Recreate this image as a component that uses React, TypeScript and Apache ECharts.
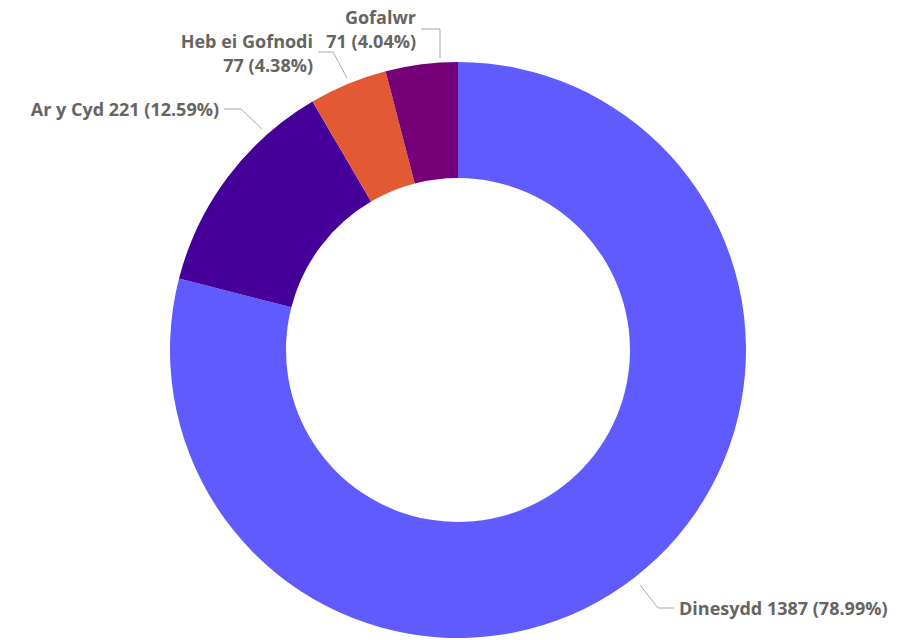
import React, { useEffect, useRef } from "react";
import * as echarts from "echarts";

const categories = ["Dinesydd", "Ar y Cyd", "Heb ei Gofnodi", "Gofalwr"];
const values = [1387, 221, 77, 71];
const colors = ["#5F5BFF", "#460099", "#E35933", "#750077"];
const labelTexts = [
  "Dinesydd 1387 (78.99%)",
  "Ar y Cyd 221 (12.59%)",
  "Heb ei Gofnodi\n77 (4.38%)",
  "Gofalwr\n71 (4.04%)",
];

// label anchor positions (layout only)
const labelPos = [
  { x: 679, y: 608, align: "left", line: [[640, 585], [658, 608], [674, 608]] },
  { x: 219, y: 109, align: "right", line: [[262, 129], [241, 109], [224, 109]] },
  { x: 313, y: 53, align: "right", line: [[347, 78], [333, 52], [318, 52]] },
  { x: 416, y: 29, align: "right", line: [[440, 58], [440, 29], [421, 29]] },
];

export default function App() {
  const ref = useRef<HTMLDivElement>(null);
  useEffect(() => {
    const chart = echarts.init(ref.current!, undefined, { renderer: "svg" });
    chart.setOption({
      animation: false,
      series: [
        {
          type: "pie",
          center: [458, 350],
          radius: [172, 288],
          startAngle: 90,
          clockwise: true,
          data: categories.map((c, i) => ({
            name: c,
            value: values[i],
            itemStyle: { color: colors[i] },
          })),
          label: {
            show: true,
            position: "outside",
            formatter: (p: any) => labelTexts[p.dataIndex],
            color: "#666562",
            fontFamily: "Open Sans",
            fontWeight: 700,
            fontSize: 18,
            lineHeight: 24,
            overflow: "none",
            edgeDistance: 0,
          },
          labelLine: {
            show: true,
            lineStyle: { color: "#AAAAAA", width: 1 },
          },
          labelLayout: (p: any) => {
            const l = labelPos[p.dataIndex];
            return {
              x: l.x,
              y: l.y,
              align: l.align,
              verticalAlign: "middle",
              labelLinePoints: l.line,
            };
          },
          emphasis: { disabled: true },
        },
      ],
    });
    return () => chart.dispose();
  }, []);
  return (
    <div
      ref={ref}
      style={{ position: "fixed", left: 0, top: 0, width: 909, height: 640, background: "#fff" }}
    />
  );
}
